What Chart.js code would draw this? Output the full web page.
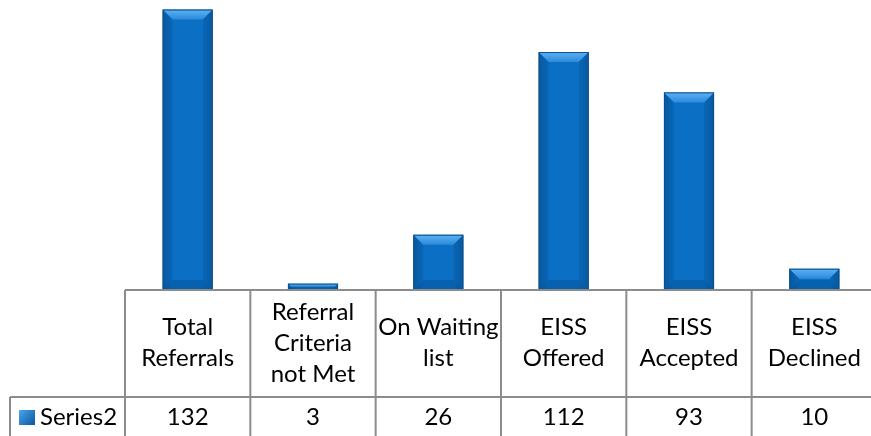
<!DOCTYPE html>
<html>
<head>
<meta charset="utf-8">
<script src="https://cdn.jsdelivr.net/npm/chart.js@4"></script>
<style>
  html, body { margin: 0; padding: 0; background: #fff; overflow: hidden; }
  #wrap { width: 871px; height: 436px; overflow: hidden; }
</style>
</head>
<body>
<div id="wrap"><canvas id="myChart" width="878" height="436"></canvas></div>
<script>
const categories = [
  ["Total", "Referrals"],
  ["Referral", "Criteria", "not Met"],
  ["On Waiting", "list"],
  ["EISS", "Offered"],
  ["EISS", "Accepted"],
  ["EISS", "Declined"],
];
const seriesName = "Series2";
const values = [132, 3, 26, 112, 93, 10];

const FONT = "24px Lato, 'Open Sans', sans-serif";
const LINE = "#8c8c8c";

const bevelBars = {
  id: "bevelBars",
  afterDatasetsDraw(chart) {
    const ctx = chart.ctx;
    chart.getDatasetMeta(0).data.forEach((bar) => {
      const left = bar.x - bar.width / 2;
      const right = bar.x + bar.width / 2;
      const top = bar.y;
      const bottom = bar.base;
      const h = bottom - top;
      const b = Math.min(10, h / 2);
      ctx.save();
      // top bevel
      let g = ctx.createLinearGradient(0, top, 0, top + b);
      g.addColorStop(0, "#5fb2f4");
      g.addColorStop(1, "#2a8adb");
      ctx.fillStyle = g;
      ctx.beginPath();
      ctx.moveTo(left, top);
      ctx.lineTo(right, top);
      ctx.lineTo(right - b, top + b);
      ctx.lineTo(left + b, top + b);
      ctx.closePath();
      ctx.fill();
      // side bevels
      ctx.fillStyle = "rgba(0,40,90,0.12)";
      ctx.beginPath();
      ctx.moveTo(left, top);
      ctx.lineTo(left + b, top + b);
      ctx.lineTo(left + b, bottom - b);
      ctx.lineTo(left, bottom);
      ctx.closePath();
      ctx.fill();
      ctx.beginPath();
      ctx.moveTo(right, top);
      ctx.lineTo(right - b, top + b);
      ctx.lineTo(right - b, bottom - b);
      ctx.lineTo(right, bottom);
      ctx.closePath();
      ctx.fill();
      // bottom bevel
      ctx.fillStyle = "rgba(0,40,90,0.2)";
      ctx.beginPath();
      ctx.moveTo(left, bottom);
      ctx.lineTo(left + b, bottom - b);
      ctx.lineTo(right - b, bottom - b);
      ctx.lineTo(right, bottom);
      ctx.closePath();
      ctx.fill();
      ctx.strokeStyle = "#0a4f8c";
      ctx.lineWidth = 1;
      ctx.strokeRect(left + 0.5, top + 0.5, right - left - 1, h - 1);
      ctx.restore();
    });
  },
};

const dataTable = {
  id: "dataTable",
  afterDraw(chart) {
    const ctx = chart.ctx;
    const area = chart.chartArea;
    const xs = chart.scales.x;
    const n = chart.data.labels.length;
    const step = (area.right - area.left) / n;
    const rowY = 397;
    const bottom = chart.height;
    ctx.save();
    ctx.strokeStyle = LINE;
    ctx.lineWidth = 2;
    ctx.beginPath();
    ctx.moveTo(area.left, area.bottom);
    ctx.lineTo(area.right, area.bottom);
    ctx.moveTo(10, rowY);
    ctx.lineTo(area.right, rowY);
    ctx.moveTo(10, rowY);
    ctx.lineTo(10, bottom);
    for (let i = 0; i <= n; i++) {
      const x = area.left + i * step;
      ctx.moveTo(x, area.bottom);
      ctx.lineTo(x, bottom);
    }
    ctx.stroke();

    ctx.fillStyle = "#000";
    ctx.font = FONT;
    ctx.textAlign = "center";
    ctx.textBaseline = "middle";
    const lh = 31;
    chart.data.labels.forEach((lines, i) => {
      const cx = xs.getPixelForValue(i);
      const y0 = 343 - ((lines.length - 1) * lh) / 2;
      lines.forEach((t, j) => ctx.fillText(t, cx, y0 + j * lh));
      ctx.fillText(String(chart.data.datasets[0].data[i]), cx, 417);
    });

    // legend key
    const g = ctx.createLinearGradient(19, 410, 35, 424);
    g.addColorStop(0, "#4aa6f0");
    g.addColorStop(1, "#0a5a9e");
    ctx.fillStyle = g;
    ctx.fillRect(19, 410, 16, 15);
    ctx.fillStyle = "#000";
    ctx.textAlign = "left";
    ctx.fillText(chart.data.datasets[0].label, 40, 417);
    ctx.restore();
  },
};

const barFill = (c) => {
  const chart = c.chart;
  const a = chart.chartArea;
  const xs = chart.scales.x;
  if (!a || !xs || c.dataIndex === undefined) return "#0b6fc3";
  const cx = xs.getPixelForValue(c.dataIndex);
  const w = ((a.right - a.left) / chart.data.labels.length) * 0.4;
  if (!Number.isFinite(cx) || !Number.isFinite(w)) return "#0b6fc3";
  const g = chart.ctx.createLinearGradient(cx - w / 2, 0, cx + w / 2, 0);
  g.addColorStop(0, "#0a5fa8");
  g.addColorStop(0.2, "#0b70c4");
  g.addColorStop(0.8, "#0b70c4");
  g.addColorStop(1, "#0a5fa8");
  return g;
};

const ctx = document.getElementById("myChart");
const myChart = new Chart(ctx, {
  type: "bar",
  data: {
    labels: categories,
    datasets: [
      {
        label: seriesName,
        data: values,
        backgroundColor: barFill,
        borderWidth: 0,
        barPercentage: 0.4,
        categoryPercentage: 1,
      },
    ],
  },
  options: {
    responsive: false,
    animation: false,
    layout: { padding: { left: 125, right: 1, top: 0, bottom: 146 } },
    plugins: { legend: { display: false }, tooltip: { enabled: false } },
    scales: {
      x: { display: false },
      y: { display: false, min: 0, max: 136.5 },
    },
  },
  plugins: [bevelBars, dataTable],
});
</script>
</body>
</html>
